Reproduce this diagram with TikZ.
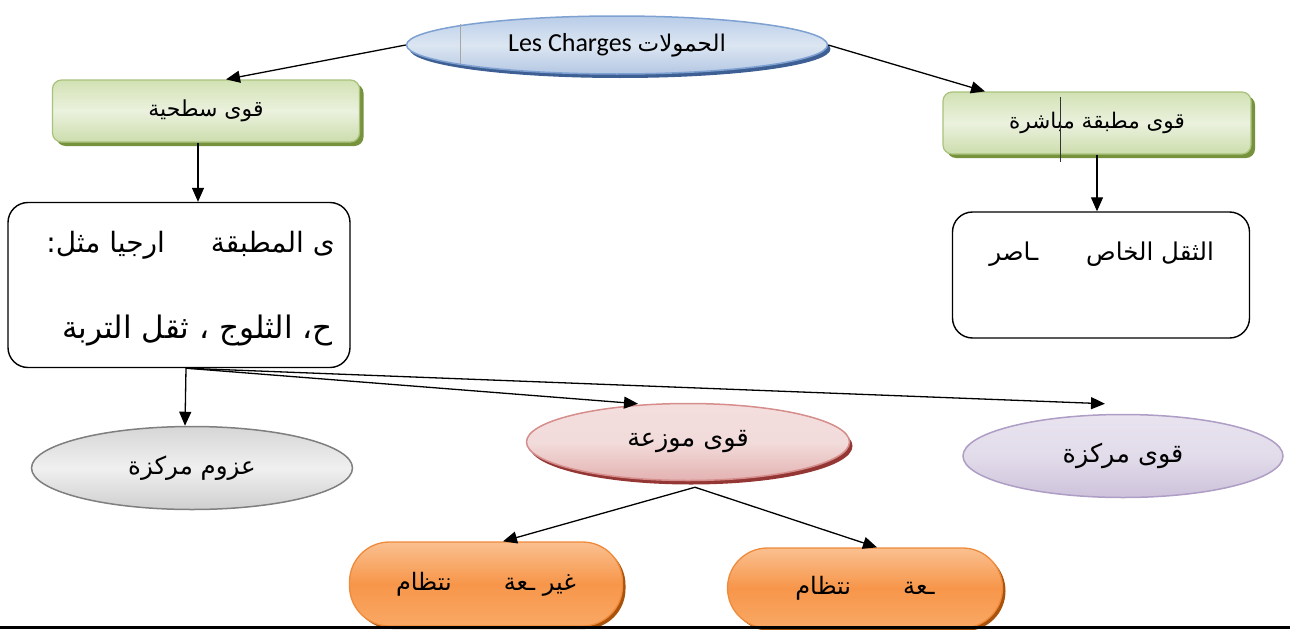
\documentclass[tikz,border=0pt]{standalone}
\usepackage{fontspec}
\setmainfont{Carlito}
\newfontfamily\arabicfont[Script=Arabic]{DejaVu Sans}
\TeXXeTstate=1
\usetikzlibrary{shapes.geometric,shadows,arrows.meta,calc}
\newcommand\artxt[1]{{\arabicfont\beginR #1\endR}}
\definecolor{blueT}{HTML}{B9CDE8}
\definecolor{blueM}{HTML}{DCE6F2}
\definecolor{blueB}{HTML}{B4C7E3}
\definecolor{blueD}{HTML}{7EA1D1}
\definecolor{blueS}{HTML}{3E5F94}
\definecolor{grnT}{HTML}{D2E2B4}
\definecolor{grnM}{HTML}{EBF1DE}
\definecolor{grnB}{HTML}{CCDDAC}
\definecolor{grnD}{HTML}{A8C27C}
\definecolor{grnS}{HTML}{76923C}
\definecolor{gryT}{HTML}{D6D6D6}
\definecolor{gryM}{HTML}{F0F0F0}
\definecolor{gryB}{HTML}{CFCFCF}
\definecolor{gryD}{HTML}{7F7F7F}
\definecolor{pnkT}{HTML}{F4DEDD}
\definecolor{pnkM}{HTML}{F2DCDB}
\definecolor{pnkB}{HTML}{E3B2B1}
\definecolor{pnkD}{HTML}{D58E8C}
\definecolor{pnkS}{HTML}{943634}
\definecolor{prpT}{HTML}{E8E3EF}
\definecolor{prpM}{HTML}{E2DCEA}
\definecolor{prpB}{HTML}{CDC2DB}
\definecolor{prpD}{HTML}{AE9DC5}
\definecolor{orgT}{HTML}{FAC090}
\definecolor{orgM}{HTML}{F7964A}
\definecolor{orgB}{HTML}{F9A865}
\definecolor{orgD}{HTML}{EE8A3A}
\definecolor{orgS}{HTML}{A8520C}
\begin{document}
\begin{tikzpicture}[x=1pt,y=-1pt,
  arr/.style={-{Triangle[length=14pt,width=12pt]},line width=1.3pt},
  ellbase/.style={ellipse,inner sep=0pt,line width=1.5pt},
  greenbox/.style={rectangle,rounded corners=9pt,inner sep=0pt,line width=1.2pt,
    draw=grnD,top color=grnT,bottom color=grnB,middle color=grnM,
    drop shadow={shadow xshift=4pt,shadow yshift=-4pt,fill=grnS,opacity=1}},
  whitebox/.style={rectangle,rounded corners=20pt,draw=black,line width=1.4pt,fill=white,inner sep=0pt},
  pill/.style={rectangle,rounded corners=40pt,inner sep=0pt,line width=1.3pt,
    draw=orgD,top color=orgT,bottom color=orgB,middle color=orgM,
    drop shadow={shadow xshift=3pt,shadow yshift=-3pt,fill=orgS,opacity=1},
    font=\fontsize{24}{28}\selectfont},
  bigtxt/.style={inner sep=0pt}
]
\useasboundingbox (0,0) rectangle (1290,629);

% top ellipse
\node[ellbase,minimum width=421pt,minimum height=58pt,draw=blueD,
  top color=blueT,bottom color=blueB,middle color=blueM,
  drop shadow={shadow xshift=3pt,shadow yshift=-4pt,fill=blueS,opacity=1},
  font=\fontsize{26}{28}\selectfont] (top) at (617,45) {Les Charges {\fontsize{23}{26}\selectfont\artxt{الحمولات}}};
\draw[gray!70,line width=0.6pt] (460,24) -- (460,64);

% green boxes
\node[greenbox,minimum width=307pt,minimum height=62pt,font=\fontsize{22}{26}\selectfont] (sl) at (206,111) {\artxt{قوى سطحية}};
\node[greenbox,minimum width=308pt,minimum height=62pt,font=\fontsize{21.5}{26}\selectfont] (sr) at (1097,123) {\artxt{قوى مطبقة مباشرة}};
\draw[black!80,line width=0.6pt] (1060,97) -- (1060,162);

% white boxes
\node[whitebox,minimum width=342pt,minimum height=165pt] (wl) at (179,285) {};
\node[bigtxt,anchor=east,font=\fontsize{28}{34}\selectfont] (wl1) at (335,245) {\artxt{ى المطبقة\hspace{46pt}ارجيا مثل:}};
\node[bigtxt,anchor=east,font=\fontsize{31}{34}\selectfont] (wl2) at (333,331) {\artxt{ح، الثلوج ، ثقل التربة}};
\node[whitebox,minimum width=297pt,minimum height=126pt] (wr) at (1101,275) {};
\node[bigtxt,anchor=east,font=\fontsize{24.5}{28}\selectfont] (wrt) at (1214,254) {\artxt{الثقل الخاص\hspace{48pt}ـاصر}};

% lower ellipses
\node[ellbase,minimum width=321pt,minimum height=83pt,draw=gryD,
  top color=gryT,bottom color=gryB,middle color=gryM,
  font=\fontsize{24.5}{28}\selectfont] (gr) at (192,468) {\raisebox{-3pt}{\artxt{عزوم مركزة}}};
\node[ellbase,minimum width=323pt,minimum height=77pt,draw=pnkD,
  top color=pnkT,bottom color=pnkB,middle color=pnkM,
  drop shadow={shadow xshift=3pt,shadow yshift=-4pt,fill=pnkS,opacity=1},
  font=\fontsize{25.5}{28}\selectfont] (pk) at (688,442) {\raisebox{-5pt}{\artxt{قوى موزعة}}};
\node[ellbase,minimum width=320pt,minimum height=83pt,draw=prpD,
  top color=prpT,bottom color=prpB,middle color=prpM,
  font=\fontsize{25.5}{28}\selectfont] (pp) at (1123,456) {\raisebox{-3pt}{\artxt{قوى مركزة}}};

% orange pills
\node[pill,minimum width=273pt,minimum height=84pt] (ol) at (486,584) {\artxt{غير ـعة\hspace{52pt}نتظام}};
\node[pill,minimum width=275pt,minimum height=80pt] (or) at (865,588) {\artxt{ـعة\hspace{52pt}نتظام}};

% bottom rule
\draw[black,line width=3pt] (0,627.5) -- (1290,627.5);

% connectors
\draw[arr] (top.west) -- ([xshift=20pt]sl.north);
\draw[arr] (top.east) -- ([xshift=-112pt]sr.north);
\draw[arr] ([xshift=-8pt]sl.south) -- ([xshift=19pt]wl.north);
\draw[arr] (sr.south) -- ([xshift=-4pt]wr.north);
\coordinate (wlo) at ([xshift=7pt]wl.south);
\draw[arr] (wlo) -- ([xshift=-7pt]gr.north);
\draw[arr] (wlo) -- ([xshift=-50pt,yshift=-1pt]pk.north);
\draw[arr] (wlo) -- ([xshift=-18pt,yshift=10pt]pp.north);
\coordinate (pko) at ([xshift=7pt,yshift=-6pt]pk.south);
\draw[arr] (pko) -- ([xshift=17pt]ol.north);
\draw[arr] (pko) -- ([xshift=12pt]or.north);
\end{tikzpicture}
\end{document}
